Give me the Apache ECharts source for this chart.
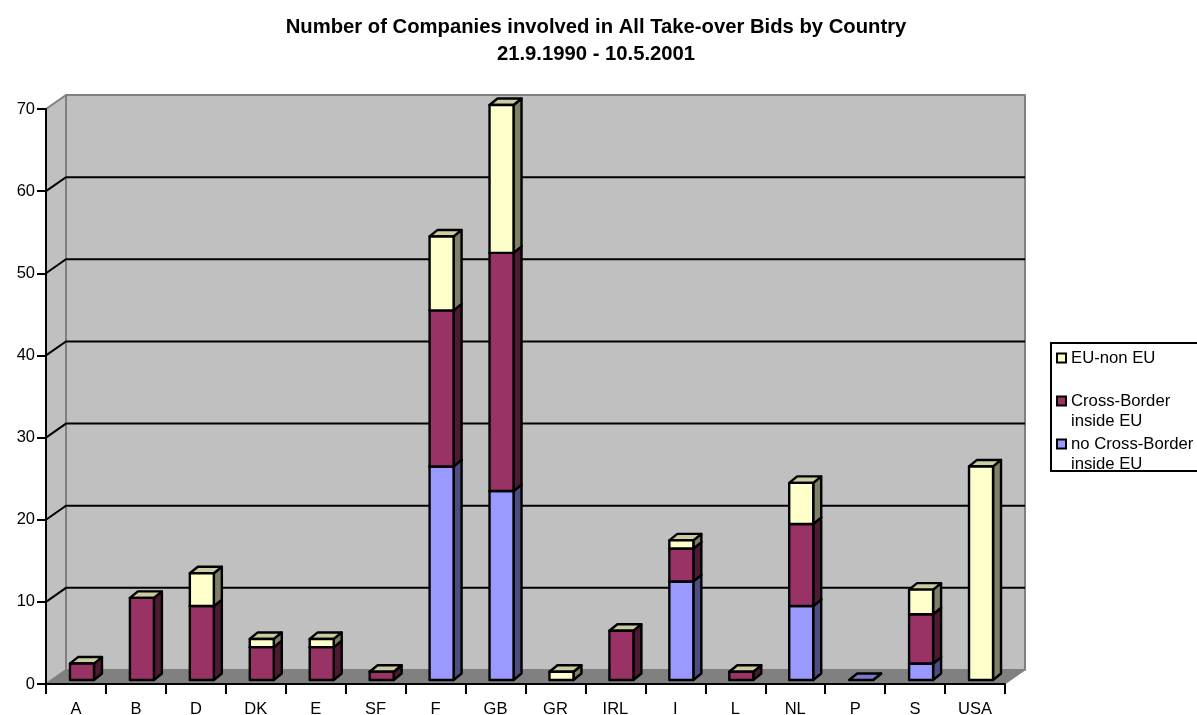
<!DOCTYPE html>
<html><head><meta charset="utf-8">
<style>html,body{margin:0;padding:0;background:#fff;overflow:hidden}#c{width:1197px;height:715px}</style>
<script src="https://cdn.jsdelivr.net/npm/echarts@6/dist/echarts.min.js"></script>
</head><body><div id="c"></div>
<script>
const categories = ['A','B','D','DK','E','SF','F','GB','GR','IRL','I','L','NL','P','S','USA'];
const noCrossBorder = [0,0,0,0,0,0,26,23,0,0,12,0,9,0,2,0];
const crossBorder   = [2,10,9,4,4,1,19,29,0,6,4,1,10,0,6,0];
const euNonEu       = [0,0,4,1,1,0,9,18,1,0,1,0,5,0,3,26];
const yTicks = [0,10,20,30,40,50,60,70];
const stacks = [noCrossBorder, crossBorder, euNonEu];
const FONT = '"Liberation Sans", Arial, sans-serif';
const WALL_DX = 20, WALL_DY = -14, BAR_DX = 8, BAR_DY = -6.5, SHIFT_X = 6, SHIFT_Y = -4, BAR_W = 24;

function poly(points, fill, stroke, lw) {
  return {type:'polygon', shape:{points}, style:{fill, stroke, lineWidth:lw, lineJoin:'round'}};
}
function wallItem(params, api) {
  const v = api.value(0);
  const half = api.size([1,0])[0] / 2;
  const L = api.coord([0, v])[0] - half;
  const R = api.coord([categories.length - 1, v])[0] + half;
  const y = api.coord([0, v])[1];
  const y0 = api.coord([0, 0])[1], yT = api.coord([0, 70])[1];
  const children = [];
  if (params.dataIndex === 0) {
    children.push(poly([[L,y0],[L+WALL_DX,y0+WALL_DY],[L+WALL_DX,yT+WALL_DY],[L,yT]],'#c0c0c0','#808080',2));
    children.push(poly([[L+WALL_DX,yT+WALL_DY],[R+WALL_DX,yT+WALL_DY],[R+WALL_DX,y0+WALL_DY],[L+WALL_DX,y0+WALL_DY]],'#c0c0c0','#808080',2));
    children.push(poly([[L,y0],[L+WALL_DX,y0+WALL_DY],[R+WALL_DX,y0+WALL_DY],[R,y0]],'#808080','#808080',1));
  } else if (v < 70) {
    children.push({type:'polyline', shape:{points:[[L,y],[L+WALL_DX,y+WALL_DY],[R+WALL_DX,y+WALL_DY]]}, style:{fill:null, stroke:'#000', lineWidth:2}});
  }
  return {type:'group', children};
}
function barItem(sIdx, front, top, side) {
  return function(params, api) {
    const i = api.value(0), v = api.value(1);
    const total = stacks[0][i] + stacks[1][i] + stacks[2][i];
    if (v === 0 && !(sIdx === 0 && total === 0)) return null;
    let base = 0;
    for (let k = 0; k < sIdx; k++) base += stacks[k][i];
    const b = api.coord([i, base]), t = api.coord([i, base + v]);
    const x0 = b[0] + SHIFT_X - BAR_W/2, x1 = x0 + BAR_W;
    const yb = b[1] + SHIFT_Y, yt = t[1] + SHIFT_Y;
    const ch = [];
    ch.push(poly([[x1,yb],[x1+BAR_DX,yb+BAR_DY],[x1+BAR_DX,yt+BAR_DY],[x1,yt]], side,'#000',2.4));
    ch.push(poly([[x0,yt],[x1,yt],[x1+BAR_DX,yt+BAR_DY],[x0+BAR_DX,yt+BAR_DY]], top,'#000',2.4));
    if (yb > yt) ch.push(poly([[x0,yb],[x1,yb],[x1,yt],[x0,yt]], front,'#000',2.4));
    return {type:'group', children:ch};
  };
}
function barSeries(name, arr, sIdx, front, top, side) {
  return {
    name, type:'custom', coordinateSystem:'cartesian2d', z:2, silent:true, clip:false,
    itemStyle:{color:front, borderColor:'#000', borderWidth:1.5},
    encode:{x:0,y:1},
    data: arr.map((v,i)=>[i,v]),
    renderItem: barItem(sIdx, front, top, side)
  };
}
const legendText = {
  'EU-non EU':'\nEU-non EU\n ',
  'Cross-Border inside EU':'\nCross-Border\ninside EU',
  'no Cross-Border inside EU':'\nno Cross-Border\ninside EU'
};
const chart = echarts.init(document.getElementById('c'), null, {renderer:'canvas'});
chart.setOption({
  animation:false,
  backgroundColor:'#fff',
  title:{
    text:'Number of Companies involved in All Take-over Bids by Country\n21.9.1990 - 10.5.2001',
    left:596, top:14, padding:0, textAlign:'center',
    textStyle:{fontFamily:FONT, fontSize:20.25, fontWeight:'bold', color:'#000', lineHeight:27}
  },
  grid:{left:46, right:192, top:109, bottom:31, containLabel:false, outerBoundsMode:'none'},
  xAxis:{
    type:'category', data:categories, z:3,
    axisLine:{lineStyle:{color:'#000',width:2}},
    axisTick:{show:true, alignWithLabel:false, length:10, lineStyle:{color:'#000',width:2}},
    axisLabel:{color:'#000', fontFamily:FONT, fontSize:16.5, margin:17, interval:0},
    splitLine:{show:false}
  },
  yAxis:{
    type:'value', min:0, max:70, interval:10, z:3,
    axisLine:{show:true, lineStyle:{color:'#000',width:2}},
    axisTick:{show:true, length:9, lineStyle:{color:'#000',width:2}},
    axisLabel:{color:'#000', fontFamily:FONT, fontSize:16.5, margin:11},
    splitLine:{show:false}
  },
  legend:{
    data:['EU-non EU','Cross-Border inside EU','no Cross-Border inside EU'],
    orient:'vertical', left:1056, top:328, itemWidth:9, itemHeight:9, itemGap:-17, padding:0,
    selectedMode:false, icon:'rect',
    formatter:n=>legendText[n],
    textStyle:{fontFamily:FONT, fontSize:16.7, color:'#000', lineHeight:20}
  },
  graphic:[{type:'rect', silent:true, shape:{x:1051,y:343,width:160,height:128}, style:{fill:null, stroke:'#000', lineWidth:2}}],
  series:[
    {
      type:'custom', name:'walls', coordinateSystem:'cartesian2d', z:1, silent:true, clip:false,
      encode:{y:0},
      data: yTicks.map(v=>[v]),
      renderItem: wallItem
    },
    barSeries('no Cross-Border inside EU', noCrossBorder, 0, '#9999ff', '#7a7acc', '#4d4d80'),
    barSeries('Cross-Border inside EU', crossBorder, 1, '#993366', '#cccca3', '#4d1a33'),
    barSeries('EU-non EU', euNonEu, 2, '#ffffcc', '#cccca3', '#808066')
  ]
});
</script></body></html>
